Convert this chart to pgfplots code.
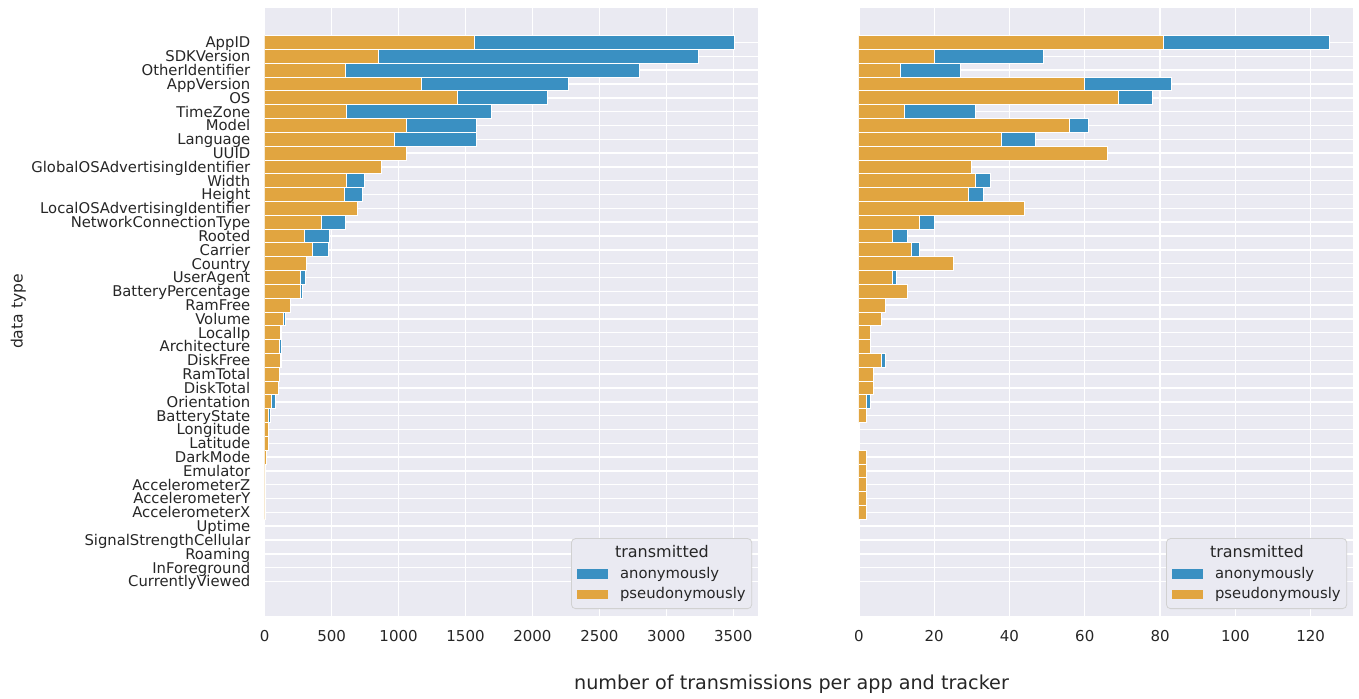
\documentclass[border=0pt]{standalone}
\usepackage{pgfplots}
\usepackage{pgfplotstable}
\pgfplotsset{compat=1.18}
\usepackage{fontspec}
\setmainfont{DejaVu Sans}
\definecolor{bgc}{HTML}{EAEAF2}
\definecolor{orc}{HTML}{E1A540}
\definecolor{blc}{HTML}{3A90C2}
\definecolor{txc}{HTML}{262626}

% idx: 0 = AppID ... 39 = CurrentlyViewed ; p = pseudonymously, a = anonymously
\pgfplotstableread{
idx p a
0 1565 1947
1 851 2388
2 604 2197
3 1174 1097
4 1440 669
5 612 1079
6 1060 522
7 970 612
8 1060 0
9 875 0
10 612 137
11 594 137
12 691 0
13 425 177
14 298 189
15 358 117
16 313 0
17 266 42
18 271 15
19 189 0
20 139 20
21 117 7
22 112 10
23 119 3
24 112 0
25 102 0
26 54 25
27 27 13
28 27 0
29 27 0
30 15 0
31 4 0
32 4 0
33 4 0
34 4 0
35 0 0
36 0 0
37 0 0
38 0 0
39 0 0
}\leftdata

\pgfplotstableread{
idx p a
0 81 44
1 20 29
2 11 16
3 60 23
4 69 9
5 12 19
6 56 5
7 38 9
8 66 0
9 30 0
10 31 4
11 29 4
12 44 0
13 16 4
14 9 4
15 14 2
16 25 0
17 9 1
18 13 0
19 7 0
20 6 0
21 3 0
22 3 0
23 6 1
24 4 0
25 4 0
26 2 1
27 2 0
28 0 0
29 0 0
30 2 0
31 2 0
32 2 0
33 2 0
34 2 0
35 0 0
36 0 0
37 0 0
38 0 0
39 0 0
}\rightdata

\pgfplotsset{
  mybase/.style={
    scale only axis, height=304pt, anchor=south west,
    xbar stacked, bar width=1,
    y dir=reverse, ymin=-2.5, ymax=41.5,
    ytick={0,...,39},
    axis background/.style={fill=bgc},
    grid=major, major grid style={white, line width=0.7pt},
    axis line style={draw=none},
    major tick length=0pt,
    tick label style={font=\fontsize{7.4}{9}\selectfont, text=txc},
    xticklabel style={font=\fontsize{7.5}{9}\selectfont},
    /pgf/number format/assume math mode=true,
    /pgf/number format/1000 sep={},
    scaled x ticks=false,
    xticklabel style={anchor=north, inner sep=0pt, yshift=-6.75pt},
    yticklabel style={anchor=base east, inner sep=0pt, xshift=-7pt, yshift=-2.7pt},
    xmin=0,
    legend style={
      at={(0.988,0.0115)}, anchor=south east,
      draw=black!18, fill=bgc, rounded corners=2pt,
      font=\fontsize{7.4}{9}\selectfont, text=txc,
      inner xsep=3pt, inner ysep=3.5pt,
      nodes={inner sep=0pt},
      row sep=3.1pt, column sep=5.9pt,
    },
    legend cell align=left,
  }
}

\begin{document}
\begin{tikzpicture}
\useasboundingbox (0,0) rectangle (679.5pt,349pt);

\begin{axis}[mybase,
  at={(132.35pt,41pt)}, width=246.65pt,
  xmax=3685, xtick={0,500,...,3500},
  yticklabels={AppID,SDKVersion,OtherIdentifier,AppVersion,OS,TimeZone,Model,Language,UUID,GlobalOSAdvertisingIdentifier,Width,Height,LocalOSAdvertisingIdentifier,NetworkConnectionType,Rooted,Carrier,Country,UserAgent,BatteryPercentage,RamFree,Volume,LocalIp,Architecture,DiskFree,RamTotal,DiskTotal,Orientation,BatteryState,Longitude,Latitude,DarkMode,Emulator,AccelerometerZ,AccelerometerY,AccelerometerX,Uptime,SignalStrengthCellular,Roaming,InForeground,CurrentlyViewed},
]
\addlegendimage{empty legend}
\addlegendimage{legend image code/.code={\fill[blc, sharp corners] (0pt,-2.15pt) rectangle (15pt,2.15pt);}}
\addlegendimage{legend image code/.code={\fill[orc, sharp corners] (0pt,-2.15pt) rectangle (15pt,2.15pt);}}
\legend{\hspace{-2.5pt}\fontsize{8}{9}\selectfont transmitted, anonymously, pseudonymously}
\addplot[fill=orc, draw=white, line width=0.5pt] table[x=p, y=idx] {\leftdata};
\addplot[fill=blc, draw=white, line width=0.5pt] table[x=a, y=idx] {\leftdata};
\end{axis}

\begin{axis}[mybase,
  at={(429.45pt,41pt)}, width=247.05pt,
  xmax=131.25, xtick={0,20,...,120},
  yticklabel style={text opacity=0},
]
\addlegendimage{empty legend}
\addlegendimage{legend image code/.code={\fill[blc, sharp corners] (0pt,-2.15pt) rectangle (15pt,2.15pt);}}
\addlegendimage{legend image code/.code={\fill[orc, sharp corners] (0pt,-2.15pt) rectangle (15pt,2.15pt);}}
\legend{\hspace{-2.5pt}\fontsize{8}{9}\selectfont transmitted, anonymously, pseudonymously}
\addplot[fill=orc, draw=white, line width=0.5pt] table[x=p, y=idx] {\rightdata};
\addplot[fill=blc, draw=white, line width=0.5pt] table[x=a, y=idx] {\rightdata};
\end{axis}

\node[anchor=base, text=txc, font=\fontsize{9.6}{11}\selectfont, inner sep=0pt] at (395.75pt,4.25pt) {number of transmissions per app and tracker};
\node[rotate=90, text=txc, font=\fontsize{7.8}{9}\selectfont, inner sep=0pt] at (9.2pt,193.25pt) {data type};
\end{tikzpicture}
\end{document}
